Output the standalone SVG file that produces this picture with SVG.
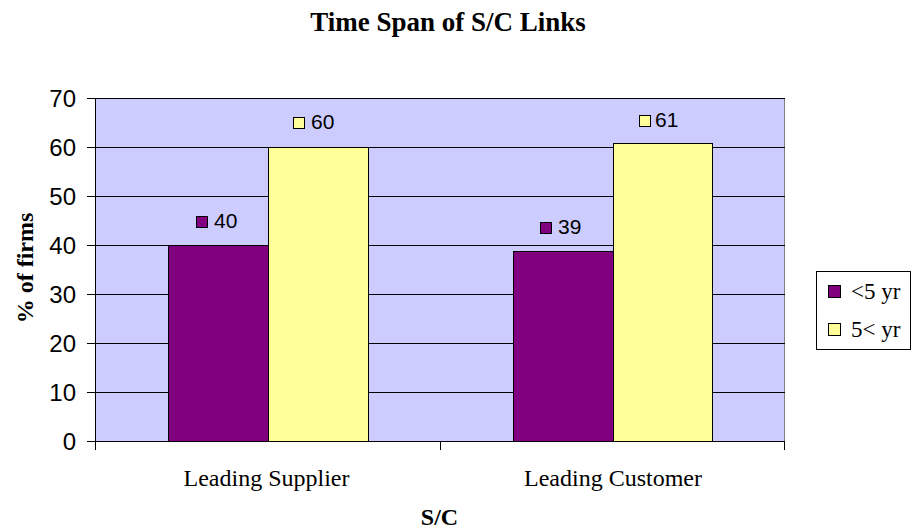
<svg xmlns="http://www.w3.org/2000/svg" width="912" height="531" viewBox="0 0 912 531">
  <style>
    .title { font-family: "Liberation Serif", "Times New Roman", serif; font-weight: bold; font-size: 27px; fill: #000; }
    .axis-title { font-family: "Liberation Serif", "Times New Roman", serif; font-weight: bold; font-size: 24px; fill: #000; }
    .cat { font-family: "Liberation Serif", "Times New Roman", serif; font-size: 24px; fill: #000; }
    .tick { font-family: "Liberation Sans", Arial, sans-serif; font-size: 24px; fill: #000; text-anchor: end; }
    .val { font-family: "Liberation Sans", Arial, sans-serif; font-size: 21px; fill: #000; }
    .leg { font-family: "Liberation Serif", "Times New Roman", serif; font-size: 23px; fill: #000; }
    .grid { stroke: #000; stroke-width: 1; }
    .axis { stroke: #000; stroke-width: 1; fill: none; }
    .short { fill: #800080; stroke: #000; stroke-width: 1; }
    .long { fill: #FFFF99; stroke: #000; stroke-width: 1; }
  </style>

  <rect x="0" y="0" width="912" height="531" fill="#fff"/>

  <text class="title" x="448" y="31" text-anchor="middle">Time Span of S/C Links</text>

  <!-- plot area -->
  <g id="plot">
    <rect x="95" y="98.5" width="689.5" height="343" fill="#CCCCFF"/>
    <line x1="784.5" y1="98.5" x2="784.5" y2="441.5" stroke="#808080" stroke-width="1"/>
    <g id="gridlines">
      <line class="grid" x1="95" y1="98.5" x2="785" y2="98.5"/>
      <line class="grid" x1="95" y1="147.5" x2="785" y2="147.5"/>
      <line class="grid" x1="95" y1="196.5" x2="785" y2="196.5"/>
      <line class="grid" x1="95" y1="245.5" x2="785" y2="245.5"/>
      <line class="grid" x1="95" y1="294.5" x2="785" y2="294.5"/>
      <line class="grid" x1="95" y1="343.5" x2="785" y2="343.5"/>
      <line class="grid" x1="95" y1="392.5" x2="785" y2="392.5"/>
    </g>
  </g>

  <!-- bars -->
  <g id="bars-supplier">
    <rect class="short" x="168.5" y="245.5" width="100" height="196"/>
    <rect class="long" x="268.5" y="147.5" width="100" height="294"/>
  </g>
  <g id="bars-customer">
    <rect class="short" x="513.5" y="251.5" width="100" height="190"/>
    <rect class="long" x="613.5" y="143.5" width="99" height="298"/>
  </g>

  <!-- axes -->
  <g id="axes">
    <line class="axis" x1="95.5" y1="98.5" x2="95.5" y2="450"/>
    <line class="axis" x1="87" y1="441.5" x2="785" y2="441.5"/>
    <line class="axis" x1="87" y1="98.5" x2="95" y2="98.5"/>
    <line class="axis" x1="87" y1="147.5" x2="95" y2="147.5"/>
    <line class="axis" x1="87" y1="196.5" x2="95" y2="196.5"/>
    <line class="axis" x1="87" y1="245.5" x2="95" y2="245.5"/>
    <line class="axis" x1="87" y1="294.5" x2="95" y2="294.5"/>
    <line class="axis" x1="87" y1="343.5" x2="95" y2="343.5"/>
    <line class="axis" x1="87" y1="392.5" x2="95" y2="392.5"/>
    <line class="axis" x1="440.5" y1="441.5" x2="440.5" y2="450"/>
    <line class="axis" x1="784.5" y1="441.5" x2="784.5" y2="450"/>
  </g>

  <g id="y-ticks">
    <text class="tick" x="76" y="107">70</text>
    <text class="tick" x="76" y="156">60</text>
    <text class="tick" x="76" y="205">50</text>
    <text class="tick" x="76" y="254">40</text>
    <text class="tick" x="76" y="303">30</text>
    <text class="tick" x="76" y="352">20</text>
    <text class="tick" x="76" y="401">10</text>
    <text class="tick" x="76" y="450">0</text>
  </g>

  <g id="categories">
    <text class="cat" x="266.5" y="486" text-anchor="middle">Leading Supplier</text>
    <text class="cat" x="613" y="486" text-anchor="middle">Leading Customer</text>
  </g>

  <text class="axis-title" x="439.5" y="525" text-anchor="middle">S/C</text>
  <text class="axis-title" transform="translate(33,268) rotate(-90)" text-anchor="middle">% of firms</text>

  <!-- data labels -->
  <g id="value-labels">
    <rect class="short" x="196.5" y="216.5" width="11" height="11"/>
    <text class="val" x="214" y="228">40</text>
    <rect class="long" x="293.5" y="117.5" width="11" height="11"/>
    <text class="val" x="311" y="129">60</text>
    <rect class="short" x="540.5" y="222.5" width="11" height="11"/>
    <text class="val" x="558" y="234">39</text>
    <rect class="long" x="639.5" y="115.5" width="11" height="11"/>
    <text class="val" x="655" y="127">61</text>
  </g>

  <!-- legend -->
  <g id="legend">
    <rect x="816.5" y="271.5" width="94" height="78" fill="#fff" stroke="#000" stroke-width="1"/>
    <rect class="short" x="828.5" y="285.5" width="12" height="12"/>
    <text class="leg" x="851" y="299">&lt;5 yr</text>
    <rect class="long" x="828.5" y="323.5" width="12" height="12"/>
    <text class="leg" x="851" y="337">5&lt; yr</text>
  </g>
</svg>
